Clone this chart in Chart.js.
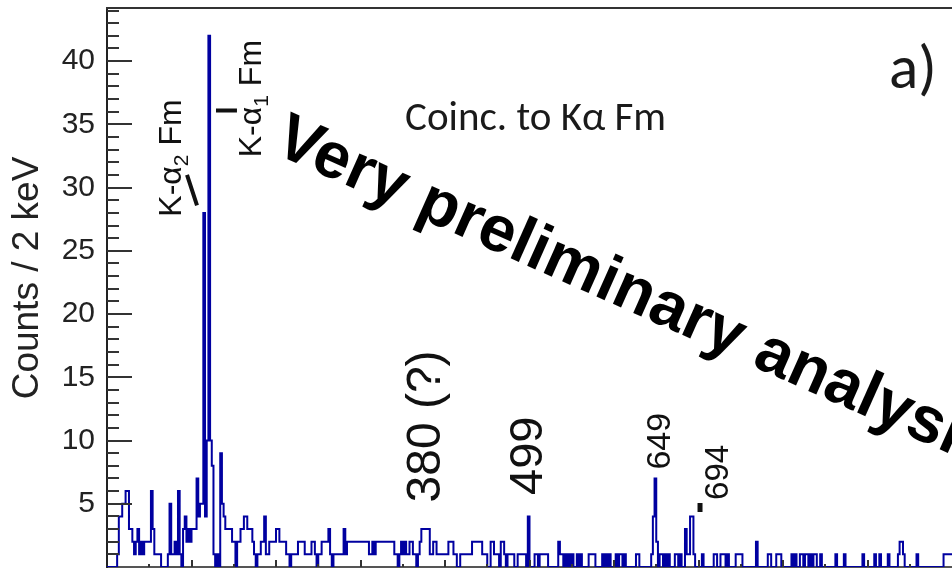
<!DOCTYPE html>
<html>
<head>
<meta charset="utf-8">
<script src="https://cdn.jsdelivr.net/npm/chart.js@4.4.1/dist/chart.umd.min.js"></script>
<style>
  html, body { margin: 0; padding: 0; background: #fff; overflow: hidden; }
  #wrap { width: 952px; height: 570px; position: relative; }
</style>
</head>
<body>
<div id="wrap"><canvas id="spectrum" width="952" height="570"></canvas></div>
<script>
// Gamma spectrum gated on Fm K-alpha X-rays: counts per 2 keV bin, starting at 0 keV
const binWidthKeV = 2;
const counts = [
  0,0,0,0,0,0,1,4,4,5,
  5,6,6,3,3,2,1,2,3,1,
  2,1,2,2,2,2,6,3,1,1,
  1,1,0,0,0,0,1,5,1,1,
  2,1,6,1,0,3,4,2,3,2,
  3,3,3,7,4,5,5,28,4,10,
  42,10,8,1,0,1,0,9,5,4,
  3,3,3,3,2,2,0,2,2,3,
  3,4,4,3,3,3,2,1,0,1,
  1,2,2,4,1,1,2,2,2,2,
  3,3,2,2,2,2,1,1,0,1,
  1,1,1,2,2,2,2,1,1,1,
  1,2,2,1,0,1,1,2,2,2,
  2,3,1,0,1,1,1,1,1,1,
  3,1,2,2,2,2,2,2,2,2,
  2,2,2,2,2,1,1,2,1,2,
  2,2,2,2,2,2,2,2,2,2,
  1,1,0,1,2,1,2,1,1,2,
  2,1,1,0,1,2,3,3,3,3,
  3,1,1,2,2,1,1,1,1,1,
  1,1,2,2,2,1,1,0,0,1,
  1,1,1,1,1,1,2,2,2,2,
  2,2,1,1,1,0,0,2,2,1,
  1,1,0,2,2,1,0,1,1,1,
  1,0,0,1,1,1,1,1,0,4,
  0,0,0,1,1,0,1,1,1,1,
  1,0,0,0,0,0,0,2,1,1,
  0,1,0,1,0,1,0,0,1,0,
  1,0,0,0,0,1,1,1,1,0,
  0,0,0,1,0,1,0,1,0,0,
  0,1,0,1,1,0,1,0,0,0,
  0,0,0,1,1,0,0,0,0,0,
  0,0,1,4,7,2,0,1,1,0,
  1,0,1,0,0,0,1,1,0,1,
  0,0,3,1,1,4,4,1,0,0,
  0,0,1,0,0,0,0,0,0,1,
  1,0,0,1,1,1,0,1,0,0,
  0,0,1,1,1,1,0,0,0,0,
  0,0,0,0,2,0,0,0,0,0,
  0,1,1,0,0,0,1,1,1,0,
  0,0,0,0,0,1,0,1,0,0,
  1,1,0,1,1,0,1,0,1,1,
  0,0,1,0,0,0,0,0,0,0,
  0,1,0,0,0,0,1,0,0,0,
  0,0,0,0,0,0,0,1,0,0,
  0,0,0,0,1,0,0,1,0,0,
  0,0,1,0,0,0,0,0,1,2,
  2,1,0,0,0,0,0,0,0,1,
  0,0,0,0,0,0,0,0,0,0,
  0,0,0,0,0,1,1,1,1,1
];
const yTickLabels = [5, 10, 15, 20, 25, 30, 35, 40];
const yAxisTitle = 'Counts / 2 keV';
const gateText = 'Coinc. to K\u03b1 Fm';
const panelTag = 'a)';
const watermark = 'Very preliminary analysis';
const peakTexts = ['380 (?)', '499', '649', '694'];

// Histogram outline: one point per bin's left edge plus the closing right edge
const edges = counts.map((v, i) => ({ x: i * binWidthKeV, y: v }));
edges.push({ x: counts.length * binWidthKeV, y: counts[counts.length - 1] });

// Anchors in data units (keV, counts) for the annotations
const peakAnchors = [
  { keV: 394, cnt: 5.1, size: 48 },
  { keV: 515, cnt: 5.7, size: 47 },
  { keV: 666, cnt: 7.7, size: 34 },
  { keV: 735, cnt: 5.3, size: 33 }
];

const SANS = '"Liberation Sans", Arial, Helvetica, sans-serif';
const HUMANIST = 'Carlito, Calibri, Lato, sans-serif';

function rotatedRun(ctx, px, py, runs) {
  // text reading bottom-to-top; runs: [{t, size, dy}]
  ctx.save();
  ctx.translate(px, py);
  ctx.rotate(-Math.PI / 2);
  ctx.textAlign = 'left';
  ctx.textBaseline = 'alphabetic';
  let cx = 0;
  for (const r of runs) {
    ctx.font = r.size + 'px ' + SANS;
    ctx.fillText(r.t, cx, r.dy || 0);
    cx += ctx.measureText(r.t).width;
  }
  ctx.restore();
}

const decorations = {
  id: 'decorations',
  afterDraw(chart) {
    const { ctx, chartArea: a, scales: { x, y } } = chart;
    ctx.save();

    // top edge of the frame
    ctx.strokeStyle = '#333';
    ctx.lineWidth = 2;
    ctx.beginPath();
    ctx.moveTo(a.left - 1, a.top);
    ctx.lineTo(a.right, a.top);
    ctx.stroke();

    // y tick marks pointing into the frame
    for (let v = 1; v <= Math.floor(y.max); v++) {
      const py = Math.round(y.getPixelForValue(v));
      const len = v % 5 === 0 ? 25 : 12;
      ctx.beginPath();
      ctx.moveTo(a.left, py);
      ctx.lineTo(a.left + len, py);
      ctx.stroke();
    }
    // x tick marks pointing up from the bottom axis
    for (let e = 50; e < x.max; e += 50) {
      const px = Math.round(x.getPixelForValue(e));
      const len = e % 100 === 0 ? 7 : 3;
      ctx.beginPath();
      ctx.moveTo(px, a.bottom);
      ctx.lineTo(px, a.bottom - len);
      ctx.stroke();
    }

    // axis title
    ctx.save();
    ctx.translate(28, 278);
    ctx.rotate(-Math.PI / 2);
    ctx.textAlign = 'center';
    ctx.textBaseline = 'middle';
    ctx.fillStyle = '#222';
    ctx.font = '37px ' + SANS;
    ctx.fillText(yAxisTitle, 0, 0);
    ctx.restore();

    ctx.fillStyle = '#111';
    // K-alpha line labels
    rotatedRun(ctx, x.getPixelForValue(87.6), y.getPixelForValue(27.7), [
      { t: 'K-\u03b1', size: 32 }, { t: '2', size: 21, dy: 7 }, { t: ' Fm', size: 32 }
    ]);
    rotatedRun(ctx, x.getPixelForValue(182.2), y.getPixelForValue(32.4), [
      { t: 'K-\u03b1', size: 32 }, { t: '1', size: 21, dy: 7 }, { t: ' Fm', size: 32 }
    ]);
    // peak energy labels
    peakTexts.forEach((t, i) => {
      const p = peakAnchors[i];
      rotatedRun(ctx, x.getPixelForValue(p.keV), y.getPixelForValue(p.cnt), [{ t, size: p.size }]);
    });

    // short marker strokes next to the labels
    ctx.strokeStyle = '#111';
    ctx.lineCap = 'butt';
    ctx.lineWidth = 4;
    ctx.beginPath();
    ctx.moveTo(x.getPixelForValue(94.7), y.getPixelForValue(31.0));
    ctx.lineTo(x.getPixelForValue(106.5), y.getPixelForValue(28.6));
    ctx.moveTo(x.getPixelForValue(129), y.getPixelForValue(36.1));
    ctx.lineTo(x.getPixelForValue(153.8), y.getPixelForValue(36.1));
    ctx.stroke();
    ctx.lineWidth = 5;
    ctx.beginPath();
    ctx.moveTo(x.getPixelForValue(701.8), y.getPixelForValue(5.06));
    ctx.lineTo(x.getPixelForValue(701.8), y.getPixelForValue(4.35));
    ctx.stroke();

    // gate description and panel tag
    ctx.textAlign = 'left';
    ctx.textBaseline = 'alphabetic';
    ctx.fillStyle = '#1a1a1a';
    ctx.font = '41px ' + HUMANIST;
    ctx.fillText(gateText, x.getPixelForValue(352.7), y.getPixelForValue(34.55));
    ctx.font = '61px ' + HUMANIST;
    ctx.fillText(panelTag, x.getPixelForValue(925.5), y.getPixelForValue(37.87));

    // diagonal watermark
    ctx.save();
    ctx.translate(x.getPixelForValue(195.3), y.getPixelForValue(32.8));
    ctx.rotate(24 * Math.PI / 180);
    ctx.fillStyle = '#000';
    ctx.font = 'bold 65px ' + SANS;
    ctx.fillText(watermark, 0, 0);
    ctx.restore();

    ctx.restore();
  }
};

// axes carry no automatic edge padding: the frame is fixed by the layout padding
function noEdgePadding(s) {
  s.paddingTop = 0; s.paddingBottom = 0; s.paddingLeft = 0; s.paddingRight = 0;
}

new Chart(document.getElementById('spectrum'), {
  type: 'line',
  data: {
    datasets: [{
      data: edges,
      stepped: 'before',
      borderColor: '#0000a0',
      borderWidth: 2,
      pointRadius: 0,
      fill: false,
      tension: 0
    }]
  },
  options: {
    responsive: false,
    animation: false,
    events: [],
    layout: { autoPadding: false, padding: { top: 8, bottom: 3, left: 0, right: 0 } },
    plugins: { legend: { display: false }, tooltip: { enabled: false } },
    scales: {
      x: {
        type: 'linear', min: 0, max: 1000,
        afterFit: s => { noEdgePadding(s); s.height = 0; },
        ticks: { display: false },
        grid: { display: false, drawTicks: false },
        border: { display: true, color: '#555', width: 2 }
      },
      y: {
        type: 'linear', min: 0, max: 44.2,
        afterFit: s => { noEdgePadding(s); s.width = 107; },
        ticks: {
          stepSize: 5, autoSkip: false, includeBounds: false, padding: 12,
          color: '#222', font: { family: SANS, size: 30, lineHeight: 1 },
          callback: v => yTickLabels.includes(v) ? String(v) : ''
        },
        grid: { display: false, drawTicks: false },
        border: { display: true, color: '#222', width: 2 }
      }
    }
  },
  plugins: [decorations]
});
</script>
</body>
</html>
